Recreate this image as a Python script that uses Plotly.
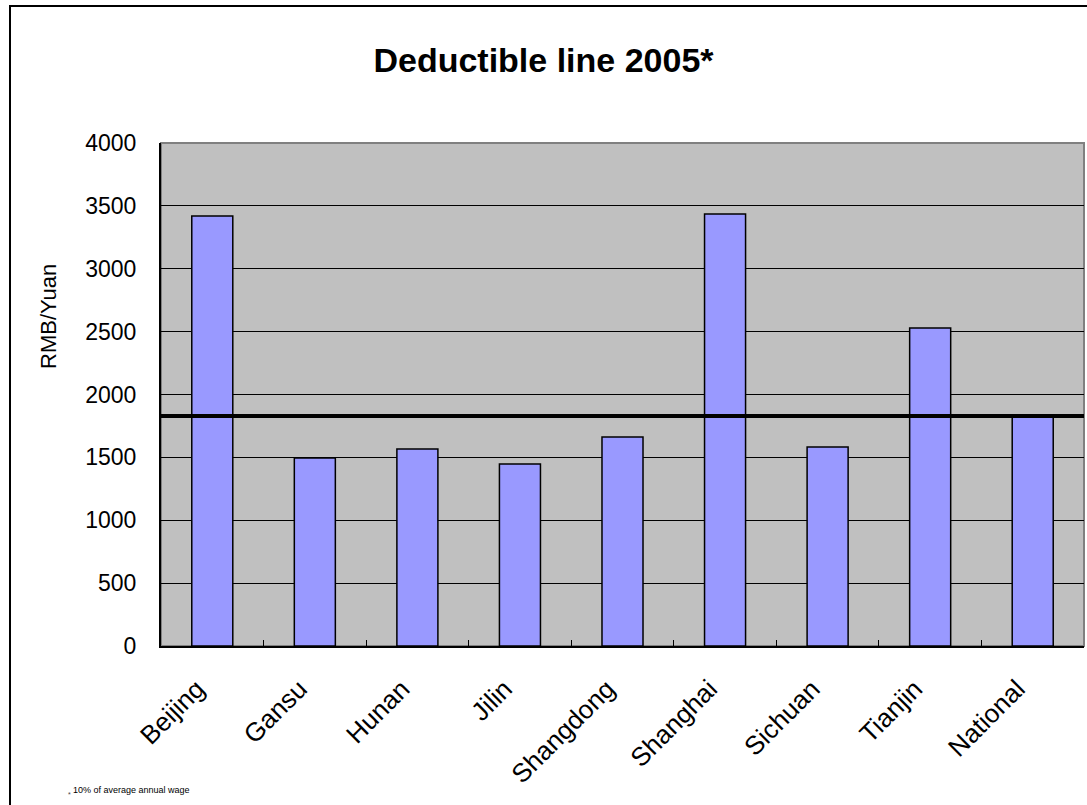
import plotly.graph_objects as go

# Deductible line by province, 2005 (RMB/Yuan)
regions = ["Beijing", "Gansu", "Hunan", "Jilin", "Shangdong",
           "Shanghai", "Sichuan", "Tianjin", "National"]
deductible = [3420, 1495, 1567, 1447, 1662, 3435, 1582, 2529, 1830]
national_line = 1830
y_ticks = [0, 500, 1000, 1500, 2000, 2500, 3000, 3500, 4000]

W, H = 1087, 805
L, R, T, B = 161, 3, 143, 159
pw, ph = W - L - R, H - T - B


def px_x(x):
    """Pixel column -> paper x."""
    return (x - L) / pw


def px_y(y):
    """Pixel row -> paper y."""
    return (H - B - y) / ph


fig = go.Figure()
fig.add_trace(go.Bar(
    x=regions, y=deductible,
    marker=dict(color="#9999FF", line=dict(color="black", width=1.5)),
    showlegend=False, hoverinfo="x+y",
))

# national average reference line across the plot
fig.add_shape(type="line", xref="paper", yref="y", x0=0, x1=1,
              y0=national_line, y1=national_line,
              line=dict(color="black", width=4), layer="above")

# plot frame: grey top/right, black left/bottom
fig.add_shape(type="rect", xref="paper", yref="paper", x0=0, x1=1, y0=0, y1=1,
              line=dict(color="#808080", width=2), layer="below")

# outer chart border
fig.add_shape(type="rect", xref="paper", yref="paper",
              x0=px_x(10), x1=px_x(W + 20), y0=px_y(H + 20), y1=px_y(6),
              line=dict(color="black", width=2), layer="below")

# rotated category labels, padded so their ends sit a little left of centre
tick_text = [name + "&nbsp;&nbsp;&nbsp;" for name in regions]

fig.update_layout(
    width=W, height=H,
    margin=dict(l=L, r=R, t=T, b=B),
    paper_bgcolor="white", plot_bgcolor="#C0C0C0",
    font=dict(family="Liberation Sans, Arial, sans-serif", color="black"),
    bargap=0.6,
    title=dict(text="<b>Deductible line 2005*</b>", x=0.5, xref="container",
               xanchor="center", y=1 - 60 / H, yanchor="middle",
               font=dict(size=34, color="black")),
    xaxis=dict(
        type="category", tickangle=-45, tickfont=dict(size=26),
        tickvals=regions, ticktext=tick_text,
        ticks="inside", tickson="boundaries", ticklen=6, tickcolor="black",
        ticklabelstandoff=0,
        showline=True, linecolor="black", linewidth=2,
        showgrid=False, zeroline=False,
    ),
    yaxis=dict(
        range=[0, 4000], tickvals=y_ticks, tickfont=dict(size=23),
        ticks="inside", ticklen=6, tickcolor="black",
        ticklabelstandoff=18,
        showline=True, linecolor="black", linewidth=2,
        showgrid=True, gridcolor="black", gridwidth=1, zeroline=False,
    ),
    annotations=[
        dict(text="RMB/Yuan", xref="paper", yref="paper",
             x=px_x(48), y=px_y(317), xanchor="center", yanchor="middle",
             textangle=-90, showarrow=False, font=dict(size=22, color="black")),
        dict(text="*", xref="paper", yref="paper",
             x=px_x(66), y=px_y(794), xanchor="left", yanchor="middle",
             showarrow=False, font=dict(size=7, color="#444444")),
        dict(text="10% of average annual wage", xref="paper", yref="paper",
             x=px_x(71), y=px_y(790), xanchor="left", yanchor="middle",
             showarrow=False, font=dict(size=9, color="black")),
    ],
)

fig.write_html("out.html")
